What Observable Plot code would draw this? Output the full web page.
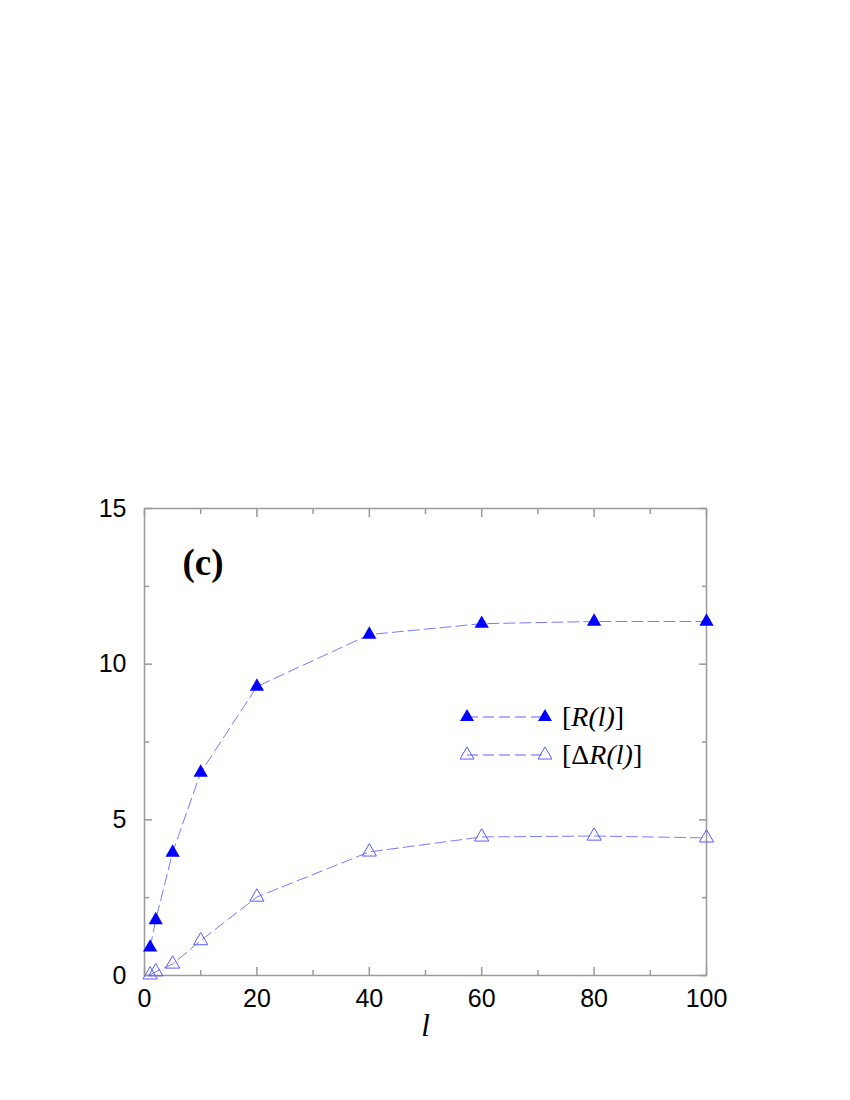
<!DOCTYPE html>
<html>
<head>
<meta charset="utf-8">
<script src="https://cdn.jsdelivr.net/npm/d3@7"></script>
<script src="https://cdn.jsdelivr.net/npm/@observablehq/plot@0.6"></script>
<style>
  html, body { margin: 0; padding: 0; background: #fff; }
  #wrap { position: relative; width: 850px; height: 1100px; }
  #legend { position: absolute; left: 460px; top: 698px; font-family: "Liberation Serif", "Times New Roman", serif; font-size: 28px; color: #000; }
  #legend .row { display: flex; align-items: center; height: 38px; }
  #legend svg { display: block; margin-right: 10px; }
  #legend i { font-style: italic; }
</style>
</head>
<body>
<div id="wrap">
  <div id="chart"></div>
  <div id="legend"></div>
</div>
<script>
const lValues = [1, 2, 5, 10, 20, 40, 60, 80, 100];
const R = [0.9, 1.78, 3.95, 6.52, 9.28, 10.95, 11.3, 11.37, 11.37];
const dR = [0.02, 0.12, 0.37, 1.12, 2.52, 3.97, 4.45, 4.48, 4.42];
const xMajor = [0, 20, 40, 60, 80, 100];
const xMinor = [10, 30, 50, 70, 90];
const yMajor = [0, 5, 10, 15];
const yMinor = [2.5, 7.5, 12.5];
const seriesLabels = ["[<i>R(l)</i>]", "[Δ<i>R(l)</i>]"];
const panelLabel = "(c)";
const xLabel = "l";

const dataR = lValues.map((l, i) => ({l, v: R[i]}));
const dataD = lValues.map((l, i) => ({l, v: dR[i]}));

const lineColor = "#7a7aff";
const markColor = "#0000ff";
const openColor = "#5a5aff";
const axisColor = "#9a9a9a";
const tickOpts = {text: null, label: null, stroke: axisColor, strokeWidth: 1.5};

const chart = Plot.plot({
  width: 850,
  height: 1100,
  marginLeft: 144,
  marginRight: 144,
  marginTop: 508,
  marginBottom: 125,
  style: {fontFamily: "'Liberation Sans', Arial, sans-serif", fontSize: "25px", background: "#fff", color: "#000"},
  x: {domain: [0, 100]},
  y: {domain: [0, 15]},
  marks: [
    Plot.frame({stroke: axisColor, strokeWidth: 1.5}),
    // inward ticks
    Plot.axisX(xMajor, {anchor: "bottom", tickSize: -8, ...tickOpts}),
    Plot.axisX(xMinor, {anchor: "bottom", tickSize: -5, ...tickOpts}),
    Plot.axisX(xMajor, {anchor: "top", tickSize: -8, ...tickOpts}),
    Plot.axisX(xMinor, {anchor: "top", tickSize: -5, ...tickOpts}),
    Plot.axisY(yMajor, {anchor: "left", tickSize: -8, ...tickOpts}),
    Plot.axisY(yMinor, {anchor: "left", tickSize: -5, ...tickOpts}),
    Plot.axisY(yMajor, {anchor: "right", tickSize: -8, ...tickOpts}),
    Plot.axisY(yMinor, {anchor: "right", tickSize: -5, ...tickOpts}),
    // tick labels
    Plot.axisX(xMajor, {anchor: "bottom", tickSize: 0, tickPadding: 14, label: null, fill: "#000", fontSize: 25}),
    Plot.axisY(yMajor, {anchor: "left", tickSize: 0, tickPadding: 18, label: null, fill: "#000", fontSize: 25}),
    // series
    Plot.line(dataR, {x: "l", y: "v", stroke: lineColor, strokeWidth: 1, strokeDasharray: "11,5"}),
    Plot.line(dataD, {x: "l", y: "v", stroke: lineColor, strokeWidth: 1, strokeDasharray: "11,5"}),
    Plot.dot(dataR, {x: "l", y: "v", symbol: "triangle", r: 5.3, fill: markColor, stroke: "none"}),
    Plot.dot(dataD, {x: "l", y: "v", symbol: "triangle", r: 5.3, fill: "none", stroke: openColor, strokeWidth: 1}),
    // panel label
    Plot.text([panelLabel], {frameAnchor: "top-left", dx: 38, dy: 40, text: d => d, fontFamily: "'Liberation Serif', 'Times New Roman', serif", fontWeight: "bold", fontSize: 37, textAnchor: "start", fill: "#000"}),
    // x axis label
    Plot.text([xLabel], {frameAnchor: "bottom", dy: 60, text: d => d, fontFamily: "'Liberation Serif', 'Times New Roman', serif", fontStyle: "italic", fontSize: 31, fill: "#000"})
  ]
});
document.getElementById("chart").appendChild(chart);

// legend
const legend = document.getElementById("legend");
const tri = (cx, filled) => {
  const s = 14, h = s * Math.sqrt(3) / 2;
  const pts = `${cx - s/2},${19 + h/3} ${cx + s/2},${19 + h/3} ${cx},${19 - 2*h/3}`;
  return `<polygon points="${pts}" fill="${filled ? markColor : "none"}" stroke="${filled ? "none" : openColor}" stroke-width="1"/>`;
};
seriesLabels.forEach((lab, i) => {
  const row = document.createElement("div");
  row.className = "row";
  row.innerHTML = `<svg width="92" height="38"><line x1="7" x2="85" y1="19" y2="19" stroke="${lineColor}" stroke-width="1.5" stroke-dasharray="11,5" stroke-opacity="0.8"/>${tri(7, i === 0)}${tri(85, i === 0)}</svg><span>${lab}</span>`;
  legend.appendChild(row);
});
</script>
</body>
</html>
